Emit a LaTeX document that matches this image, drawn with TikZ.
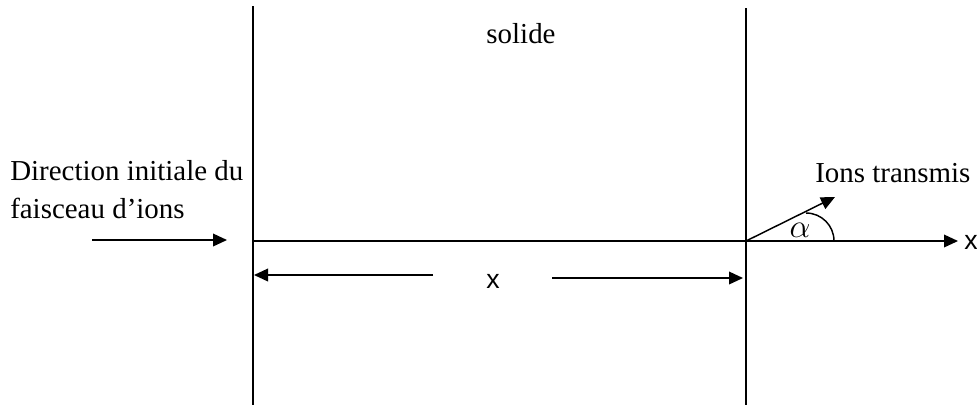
\documentclass[tikz,border=0pt]{standalone}
\usepackage{fontspec}
\setmainfont{Liberation Serif}
\newfontfamily\arialfont{Liberation Sans}
\usetikzlibrary{arrows.meta}
\tikzset{
  wall/.style     = {black, line width=1.2pt},
  beam/.style     = {-{Triangle[length=10.5pt,width=9.5pt]}, black, line width=1.1pt},
  lbl/.style      = {inner sep=0pt, font=\fontsize{21.7}{28.5}\selectfont},
  sanslbl/.style  = {inner sep=0pt, font=\arialfont\fontsize{20}{24}\selectfont}
}
\begin{document}
\begin{tikzpicture}[x=0.75pt,y=-0.75pt]
  \useasboundingbox (0,0) rectangle (977,405);
  % solid walls
  \coordinate (wlt) at (253,6);   \coordinate (wlb) at (253,405);
  \coordinate (wrt) at (746,8);   \coordinate (wrb) at (746,405);
  \draw[wall] (wlt) -- (wlb);
  \draw[wall] (wrt) -- (wrb);
  % axis through the solid
  \coordinate (O) at (253,241);
  \coordinate (P) at (746,241);
  \coordinate (axtip) at (958,241);
  \draw[wall] (O) -- (P);
  \draw[beam] (P) -- (axtip);
  \node[sanslbl,anchor=west] (axlbl) at (964,242) {x};
  % incident beam
  \coordinate (inA) at (92,240);  \coordinate (inB) at (227,240);
  \draw[beam] (inA) -- (inB);
  % thickness x
  \node[sanslbl] (thick) at (493,281) {x};
  \coordinate (dlA) at (433,275); \coordinate (dlB) at (254,275);
  \coordinate (drA) at (552,278); \coordinate (drB) at (743,278);
  \draw[beam] (dlA) -- (dlB);
  \draw[beam] (drA) -- (drB);
  % transmitted ions
  \coordinate (trtip) at (835,197);
  \draw[beam] (P) -- (trtip);
  \draw[line width=1.1pt] (834,241) arc[start angle=0,end angle=-90,radius=28];
  \node[inner sep=0pt,font=\fontsize{24}{28}\selectfont] (alpha) at (800,230) {$\alpha$};
  % labels
  \node[lbl,anchor=base] (solide) at (521,43) {solide};
  \node[lbl,anchor=base west] (ions) at (815,182) {Ions transmis};
  \node[lbl,anchor=north west,align=left] (dir) at (10,160)
       {Direction initiale du\\faisceau d’ions};
\end{tikzpicture}
\end{document}
